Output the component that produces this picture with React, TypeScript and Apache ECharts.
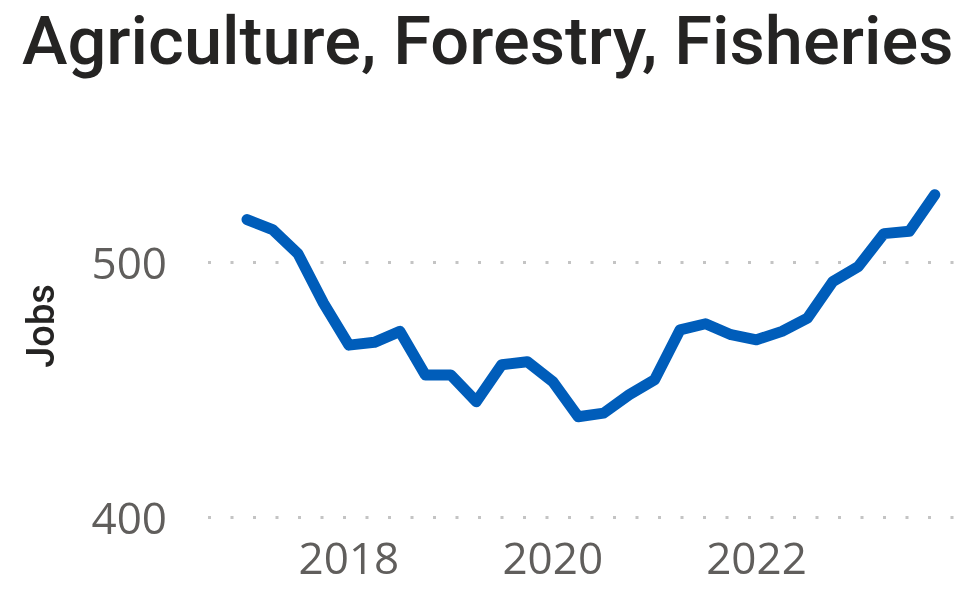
import React, { useEffect, useRef } from "react";
import * as echarts from "echarts";

const titleText = "Agriculture, Forestry, Fisheries";
const yAxisTitle = "Jobs";
// Quarterly observations starting 2017 Q1
const startYear = 2017;
const quarterStep = 0.25;
const jobs = [
  516.8, 512.9, 503.4, 484.0, 467.5, 468.6, 472.9, 455.8, 455.8, 445.3,
  459.8, 461.0, 453.2, 439.4, 440.8, 448.0, 453.9, 473.5, 475.9, 471.6,
  469.6, 472.9, 478.1, 492.5, 498.4, 511.3, 512.2, 526.6,
];
const xTickYears = [2018, 2020, 2022];
const yTickValues = [400, 500];

export default function App() {
  const ref = useRef<HTMLDivElement>(null);
  useEffect(() => {
    if (!ref.current) return;
    const chart = echarts.init(ref.current, null, { renderer: "svg" });
    const data = jobs.map((v, i) => [startYear + i * quarterStep, v]);
    chart.setOption({
      animation: false,
      grid: {
        left: 208,
        right: 8,
        top: 186,
        bottom: 75,
        containLabel: false,
        outerBoundsMode: "none",
      },
      graphic: [
        {
          type: "text",
          x: 22,
          y: 8,
          scaleX: 1.024,
          style: {
            text: titleText,
            font: "500 67px Roboto",
            fill: "#252423",
            textVerticalAlign: "top",
          },
        },
        {
          type: "text",
          x: 41,
          y: 326,
          rotation: Math.PI / 2,
          style: {
            text: yAxisTitle,
            font: "500 38px Roboto",
            fill: "#252423",
            textAlign: "center",
            textVerticalAlign: "middle",
          },
        },
      ],
      xAxis: {
        type: "value",
        min: 2016.617,
        max: 2023.948,
        axisLine: { show: false },
        axisTick: { show: false },
        splitLine: { show: false },
        axisLabel: {
          customValues: xTickYears,
          formatter: (v: number) => (xTickYears.includes(Math.round(v * 1000) / 1000) ? String(v) : ""),
          color: "#605E5C",
          fontFamily: "Open Sans",
          fontSize: 44,
          margin: 18,
        },
      },
      yAxis: {
        type: "value",
        min: 400,
        max: 530,
        interval: 100,
        axisLine: { show: false },
        axisTick: { show: false },
        splitLine: { show: false },
        axisLabel: {
          customValues: yTickValues,
          formatter: (v: number) => (yTickValues.includes(v) ? String(v) : ""),
          color: "#605E5C",
          fontFamily: "Open Sans",
          fontSize: 44,
          margin: 41,
        },
      },
      series: [
        {
          type: "line",
          data,
          showSymbol: false,
          symbol: "none",
          lineStyle: { color: "#005DBA", width: 11, cap: "round", join: "round" },
          markLine: {
            silent: true,
            symbol: "none",
            label: { show: false },
            lineStyle: { color: "#C4C4C4", width: 3, type: [3, 19.5] },
            data: yTickValues.map((v) => ({ yAxis: v })),
            z: 1,
          },
          z: 2,
        },
      ],
    });
    return () => chart.dispose();
  }, []);
  return (
    <div
      ref={ref}
      style={{ position: "fixed", left: 0, top: 0, width: 963, height: 592 }}
    />
  );
}
